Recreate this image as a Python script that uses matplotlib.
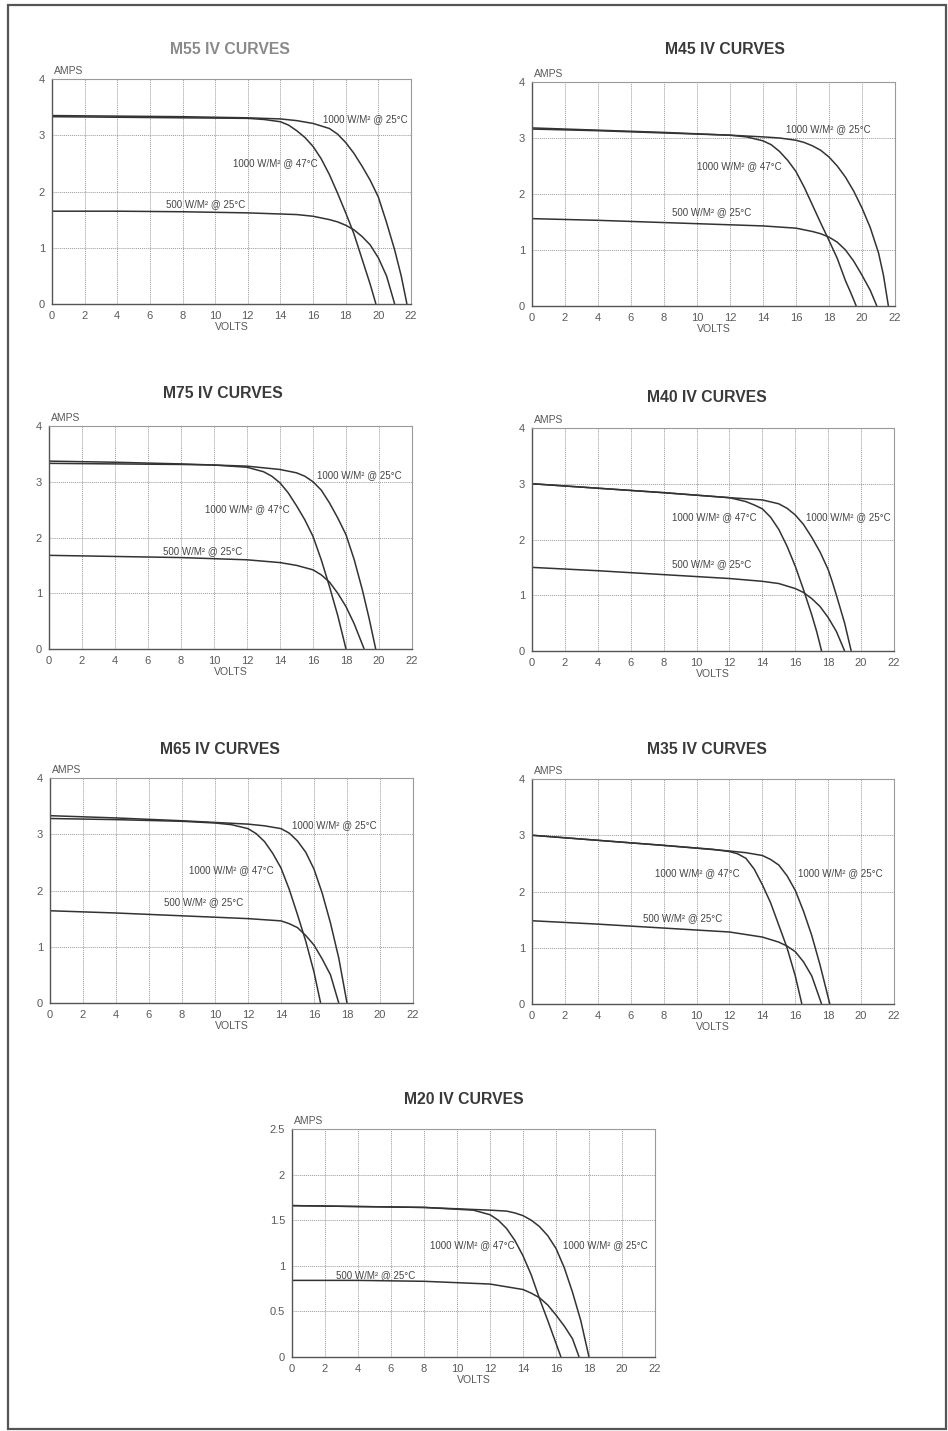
import matplotlib
matplotlib.use("Agg")
import matplotlib.pyplot as plt
from matplotlib.patches import Rectangle

W, H = 948, 1431

# ---- data (volts, amps) ----
m55_v25 = [0, 4, 8, 12, 14, 15, 16, 17, 17.5, 18, 18.5, 19, 19.5, 20, 20.5, 21, 21.4, 21.75]
m55_i25 = [3.35, 3.34, 3.33, 3.31, 3.29, 3.26, 3.21, 3.12, 3.02, 2.87, 2.68, 2.45, 2.2, 1.9, 1.45, 0.96, 0.5, 0]
m55_v47 = [0, 4, 8, 12, 13, 14, 14.5, 15, 15.5, 16, 16.5, 17, 17.5, 18, 18.5, 19, 19.5, 19.85]
m55_i47 = [3.33, 3.32, 3.31, 3.3, 3.28, 3.24, 3.18, 3.08, 2.96, 2.8, 2.58, 2.3, 1.97, 1.62, 1.25, 0.8, 0.35, 0]
m55_v500 = [0, 4, 8, 12, 14, 15, 16, 17, 17.5, 18, 18.5, 19, 19.5, 20, 20.5, 21]
m55_i500 = [1.65, 1.65, 1.64, 1.62, 1.6, 1.59, 1.56, 1.5, 1.46, 1.4, 1.32, 1.2, 1.05, 0.82, 0.5, 0]

m45_v25 = [0, 4, 8, 12, 14, 15, 16, 16.5, 17, 17.5, 18, 18.5, 19, 19.5, 20, 20.5, 21, 21.3, 21.6]
m45_i25 = [3.18, 3.14, 3.1, 3.05, 3.02, 3.0, 2.96, 2.92, 2.86, 2.78, 2.66, 2.5, 2.3, 2.05, 1.75, 1.4, 0.95, 0.55, 0]
m45_v47 = [0, 4, 8, 12, 13, 14, 14.5, 15, 15.5, 16, 16.5, 17, 17.5, 18, 18.5, 19, 19.3, 19.65]
m45_i47 = [3.16, 3.13, 3.09, 3.05, 3.02, 2.95, 2.88, 2.76, 2.6, 2.4, 2.12, 1.8, 1.48, 1.17, 0.85, 0.45, 0.25, 0]
m45_v500 = [0, 4, 8, 12, 14, 15, 16, 16.5, 17, 17.5, 18, 18.5, 19, 19.5, 20, 20.5, 20.9]
m45_i500 = [1.56, 1.53, 1.49, 1.45, 1.43, 1.41, 1.39, 1.36, 1.33, 1.29, 1.23, 1.14, 1.0, 0.8, 0.55, 0.28, 0]

m75_v25 = [0, 4, 8, 12, 13, 14, 15, 15.5, 16, 16.5, 17, 17.5, 18, 18.5, 19, 19.4, 19.8]
m75_i25 = [3.37, 3.35, 3.32, 3.28, 3.25, 3.22, 3.16, 3.1, 3.0, 2.85, 2.62, 2.35, 2.05, 1.6, 1.05, 0.55, 0]
m75_v47 = [0, 4, 8, 10, 12, 13, 13.5, 14, 14.5, 15, 15.5, 16, 16.5, 17, 17.5, 18]
m75_i47 = [3.33, 3.32, 3.31, 3.3, 3.26, 3.18, 3.1, 2.98, 2.8, 2.57, 2.32, 2.02, 1.6, 1.12, 0.6, 0]
m75_v500 = [0, 4, 8, 12, 14, 15, 16, 16.5, 17, 17.5, 18, 18.5, 19.1]
m75_i500 = [1.68, 1.66, 1.64, 1.6, 1.55, 1.5, 1.42, 1.33, 1.2, 1.0, 0.76, 0.45, 0]

m40_v25 = [0, 4, 8, 12, 14, 15, 15.5, 16, 16.5, 17, 17.5, 18, 18.25, 18.5, 19, 19.4]
m40_i25 = [3.0, 2.92, 2.84, 2.75, 2.71, 2.64, 2.56, 2.44, 2.27, 2.04, 1.78, 1.46, 1.24, 1.0, 0.5, 0]
m40_v47 = [0, 4, 8, 12, 13, 13.5, 14, 14.5, 15, 15.5, 16, 16.5, 17, 17.3, 17.6]
m40_i47 = [3.0, 2.92, 2.84, 2.75, 2.68, 2.62, 2.55, 2.4, 2.18, 1.88, 1.52, 1.1, 0.65, 0.35, 0]
m40_v500 = [0, 4, 8, 12, 14, 15, 16, 16.5, 17, 17.5, 18, 18.5, 19]
m40_i500 = [1.5, 1.44, 1.37, 1.3, 1.25, 1.21, 1.12, 1.05, 0.94, 0.8, 0.6, 0.35, 0]

m65_v25 = [0, 4, 8, 12, 13, 14, 14.5, 15, 15.5, 16, 16.5, 17, 17.5, 18]
m65_i25 = [3.33, 3.29, 3.24, 3.18, 3.15, 3.1, 3.02, 2.88, 2.68, 2.38, 1.95, 1.42, 0.8, 0]
m65_v47 = [0, 4, 8, 10, 11, 12, 12.5, 13, 13.5, 14, 14.5, 15, 15.5, 16, 16.4]
m65_i47 = [3.28, 3.26, 3.23, 3.2, 3.17, 3.1, 3.01, 2.87, 2.66, 2.4, 2.02, 1.57, 1.1, 0.55, 0]
m65_v500 = [0, 4, 8, 12, 13, 14, 14.5, 15, 15.5, 16, 16.5, 17, 17.5]
m65_i500 = [1.64, 1.6, 1.55, 1.5, 1.48, 1.46, 1.41, 1.34, 1.2, 1.03, 0.78, 0.5, 0]

m35_v25 = [0, 4, 8, 12, 13, 14, 14.5, 15, 15.5, 16, 16.5, 17, 17.5, 18.1]
m35_i25 = [3.0, 2.91, 2.82, 2.72, 2.69, 2.64, 2.57, 2.47, 2.28, 2.02, 1.65, 1.22, 0.7, 0]
m35_v47 = [0, 4, 8, 11, 12, 12.5, 13, 13.5, 14, 14.5, 15, 15.5, 16, 16.4]
m35_i47 = [3.0, 2.91, 2.82, 2.75, 2.71, 2.67, 2.59, 2.4, 2.12, 1.8, 1.4, 1.0, 0.5, 0]
m35_v500 = [0, 4, 8, 12, 14, 15, 15.5, 16, 16.5, 17, 17.6]
m35_i500 = [1.48, 1.42, 1.35, 1.28, 1.19, 1.1, 1.03, 0.93, 0.75, 0.5, 0]

m20_v25 = [0, 4, 8, 12, 13, 13.5, 14, 14.5, 15, 15.5, 16, 16.5, 17, 17.5, 18]
m20_i25 = [1.66, 1.65, 1.64, 1.61, 1.6, 1.58, 1.55, 1.5, 1.43, 1.33, 1.19, 0.98, 0.71, 0.4, 0]
m20_v47 = [0, 4, 8, 10, 11, 12, 12.5, 13, 13.5, 14, 14.5, 15, 15.5, 16, 16.3]
m20_i47 = [1.66, 1.65, 1.64, 1.62, 1.61, 1.56, 1.5, 1.41, 1.28, 1.11, 0.9, 0.64, 0.4, 0.15, 0]
m20_v500 = [0, 4, 8, 12, 14, 14.5, 15, 15.5, 16, 16.5, 17, 17.4]
m20_i500 = [0.84, 0.84, 0.83, 0.8, 0.74, 0.7, 0.65, 0.57, 0.46, 0.34, 0.2, 0]

volt_ticks = [0, 2, 4, 6, 8, 10, 12, 14, 16, 18, 20, 22]
amp_ticks = [0, 1, 2, 3, 4]
amp_ticks_m20 = [0, 0.5, 1, 1.5, 2, 2.5]
amp_labels_m20 = ["0", "0.5", "1", "1.5", "2", "2.5"]

LBL25 = "1000 W/M\u00b2 @ 25\u00b0C"
LBL47 = "1000 W/M\u00b2 @ 47\u00b0C"
LBL500 = "500 W/M\u00b2 @ 25\u00b0C"

plt.rcParams["font.family"] = ["Liberation Sans", "DejaVu Sans"]

fig = plt.figure(figsize=(W / 100, H / 100), dpi=100)
fig.patch.set_facecolor("white")

# page border
fig.patches.append(Rectangle((8 / W, 1 - 1429 / H), 938 / W, 1424 / H,
                             transform=fig.transFigure, fill=False,
                             edgecolor="#555555", linewidth=1.6))

CURVE = "#333333"
TXT = "#5a5a5a"


def draw_panel(box, title, title_xy, curves, labels, ymax=4, yticks=None, ylabels=None,
               title_color="#3a3a3a"):
    left, top, right, bottom = box
    ax = fig.add_axes([left / W, 1 - bottom / H, (right - left) / W, (bottom - top) / H])
    ax.set_xlim(0, 22)
    ax.set_ylim(0, ymax)
    ax.set_xticks(volt_ticks)
    ax.set_yticks(yticks if yticks is not None else amp_ticks)
    if ylabels is not None:
        ax.set_yticklabels(ylabels)
    ax.tick_params(length=0, labelsize=8, labelcolor=TXT, pad=5)
    ax.grid(True, linestyle=(0, (1, 1)), color="#9a9a9a", linewidth=0.7)
    for side, sp in ax.spines.items():
        if side in ("left", "bottom"):
            sp.set_color("#555555")
            sp.set_linewidth(1.0)
        else:
            sp.set_color("#9a9a9a")
            sp.set_linewidth(0.8)
            sp.set_linestyle((0, (1, 1)))
    for v, i in curves:
        ax.plot(v, i, color=CURVE, linewidth=1.1, solid_capstyle="butt")
    for text, x, y in labels:
        ax.text(x, y, text, fontsize=7, color="#444444", va="center", ha="left")
    ax.text(0.005, 1.012, "AMPS", transform=ax.transAxes, fontsize=7.5, color=TXT,
            ha="left", va="bottom")
    ax.set_xlabel("VOLTS", fontsize=7.6, color=TXT, labelpad=0.5)
    fig.text(title_xy[0] / W, 1 - title_xy[1] / H, title, fontsize=11.3, weight="bold",
             color=title_color, ha="center", va="center")
    return ax


draw_panel((52, 79, 411, 304), "M55 IV CURVES", (230, 50),
           [(m55_v25, m55_i25), (m55_v47, m55_i47), (m55_v500, m55_i500)],
           [(LBL25, 16.6, 3.29), (LBL47, 11.1, 2.5), (LBL500, 7.0, 1.78)],
           title_color="#8a8a8a")
draw_panel((532, 82, 895, 306), "M45 IV CURVES", (725, 50),
           [(m45_v25, m45_i25), (m45_v47, m45_i47), (m45_v500, m45_i500)],
           [(LBL25, 15.4, 3.15), (LBL47, 10.0, 2.49), (LBL500, 8.5, 1.67)])
draw_panel((49, 426, 412, 649), "M75 IV CURVES", (223, 394),
           [(m75_v25, m75_i25), (m75_v47, m75_i47), (m75_v500, m75_i500)],
           [(LBL25, 16.25, 3.11), (LBL47, 9.45, 2.51), (LBL500, 6.9, 1.76)])
draw_panel((532, 428, 894, 651), "M40 IV CURVES", (707, 397),
           [(m40_v25, m40_i25), (m40_v47, m40_i47), (m40_v500, m40_i500)],
           [(LBL25, 16.65, 2.4), (LBL47, 8.5, 2.4), (LBL500, 8.5, 1.55)])
draw_panel((50, 778, 413, 1003), "M65 IV CURVES", (220, 750),
           [(m65_v25, m65_i25), (m65_v47, m65_i47), (m65_v500, m65_i500)],
           [(LBL25, 14.65, 3.16), (LBL47, 8.45, 2.37), (LBL500, 6.9, 1.8)])
draw_panel((532, 779, 894, 1004), "M35 IV CURVES", (707, 750),
           [(m35_v25, m35_i25), (m35_v47, m35_i47), (m35_v500, m35_i500)],
           [(LBL25, 16.15, 2.32), (LBL47, 7.5, 2.32), (LBL500, 6.75, 1.53)])
draw_panel((292, 1129, 655, 1357), "M20 IV CURVES", (464, 1100),
           [(m20_v25, m20_i25), (m20_v47, m20_i47), (m20_v500, m20_i500)],
           [(LBL25, 16.4, 1.23), (LBL47, 8.35, 1.23), (LBL500, 2.65, 0.9)],
           ymax=2.5, yticks=amp_ticks_m20, ylabels=amp_labels_m20)

fig.savefig("out.png", dpi=100, facecolor="white")
